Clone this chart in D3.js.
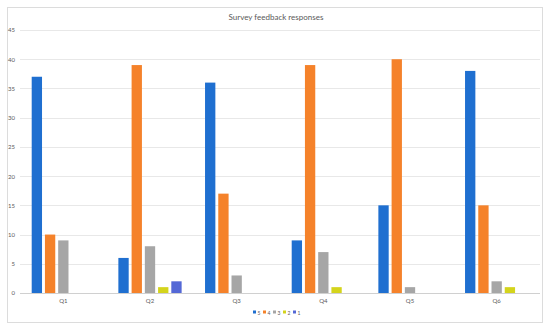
<!DOCTYPE html>
<html>
<head>
<meta charset="utf-8">
<script src="https://cdn.jsdelivr.net/npm/d3@7"></script>
<style>
  body { margin: 0; background: #fff; }
  text { font-family: Lato, "Open Sans", sans-serif; }
</style>
</head>
<body>
<div id="chart"></div>
<script>
// data
var questions = ["Q1", "Q2", "Q3", "Q4", "Q5", "Q6"];
var seriesNames = ["5", "4", "3", "2", "1"];
var rating5 = [37, 6, 36, 9, 15, 38];
var rating4 = [10, 39, 17, 39, 40, 15];
var rating3 = [9, 8, 3, 7, 1, 2];
var rating2 = [0, 1, 0, 1, 0, 1];
var rating1 = [0, 2, 0, 0, 0, 0];
var yTicks = [0, 5, 10, 15, 20, 25, 30, 35, 40, 45];

var colors = ["#1f6fd0", "#f5822a", "#a6a6a6", "#d4d41c", "#5468d6"];
var allSeries = [rating5, rating4, rating3, rating2, rating1];

var svgWidth = 550;
var svgHeight = 330;

var margin = { top: 30, right: 10, bottom: 37, left: 20 };
var width = svgWidth - margin.left - margin.right;
var height = svgHeight - margin.top - margin.bottom;

var svg = d3.select("#chart").append("svg")
    .attr("width", svgWidth)
    .attr("height", svgHeight);

// chart frame
svg.append("rect")
    .attr("x", 7.5)
    .attr("y", 7.5)
    .attr("width", 535)
    .attr("height", 315)
    .attr("fill", "#fff")
    .attr("stroke", "#dcdcdc");

svg.append("text")
    .attr("x", svgWidth / 2 + 1)
    .attr("y", 20)
    .attr("text-anchor", "middle")
    .attr("font-size", "8px")
    .attr("fill", "#595959")
    .text("Survey feedback responses");

var chartGroup = svg.append("g")
    .attr("transform", `translate(${margin.left}, ${margin.top})`);

var x0 = d3.scaleBand()
    .domain(questions)
    .range([0, width])
    .paddingInner(0.27)
    .paddingOuter(0.135);

var x1 = d3.scaleBand()
    .domain(seriesNames)
    .range([0, x0.bandwidth()])
    .paddingInner(0.22);

var y = d3.scaleLinear()
    .domain([0, 45])
    .range([height, 0]);

// gridlines
chartGroup.append("g")
    .selectAll("line")
    .data(yTicks)
    .enter()
    .append("line")
    .attr("x1", 0)
    .attr("x2", width)
    .attr("y1", d => Math.round(y(d)) + 0.5)
    .attr("y2", d => Math.round(y(d)) + 0.5)
    .attr("stroke", d => d === 0 ? "#d0d0d0" : "#e8e8e8");

// y labels
var leftAxis = d3.axisLeft(y).tickValues(yTicks).tickSize(0).tickPadding(5);
var yAxis = chartGroup.append("g").call(leftAxis);
yAxis.select(".domain").remove();
yAxis.selectAll("text")
    .attr("font-size", "6px")
    .attr("fill", "#595959")
    .style("font-family", "Lato, 'Open Sans', sans-serif");

// x labels
var bottomAxis = d3.axisBottom(x0).tickSize(0).tickPadding(6);
var xAxis = chartGroup.append("g")
    .attr("transform", `translate(0, ${height})`)
    .call(bottomAxis);
xAxis.select(".domain").remove();
xAxis.selectAll("text")
    .attr("font-size", "6px")
    .attr("fill", "#595959")
    .style("font-family", "Lato, 'Open Sans', sans-serif");

// bars
var groups = chartGroup.selectAll(".qgroup")
    .data(questions)
    .enter()
    .append("g")
    .attr("transform", d => `translate(${x0(d)}, 0)`);

groups.selectAll("rect")
    .data((q, qi) => seriesNames.map((s, si) => ({ s: s, si: si, v: allSeries[si][qi] })))
    .enter()
    .append("rect")
    .attr("x", d => x1(d.s))
    .attr("y", d => y(d.v))
    .attr("width", x1.bandwidth())
    .attr("height", d => height - y(d.v))
    .attr("fill", d => colors[d.si]);

// legend
var legend = svg.append("g")
    .attr("transform", "translate(253, 313)");

var item = legend.selectAll("g")
    .data(seriesNames)
    .enter()
    .append("g")
    .attr("transform", (d, i) => `translate(${i * 10}, 0)`);

item.append("rect")
    .attr("x", 0)
    .attr("y", -2.5)
    .attr("width", 3)
    .attr("height", 3)
    .attr("fill", (d, i) => colors[i]);

item.append("text")
    .attr("x", 4.5)
    .attr("y", 1.5)
    .attr("font-size", "5px")
    .attr("fill", "#595959")
    .text(d => d);
</script>
</body>
</html>
